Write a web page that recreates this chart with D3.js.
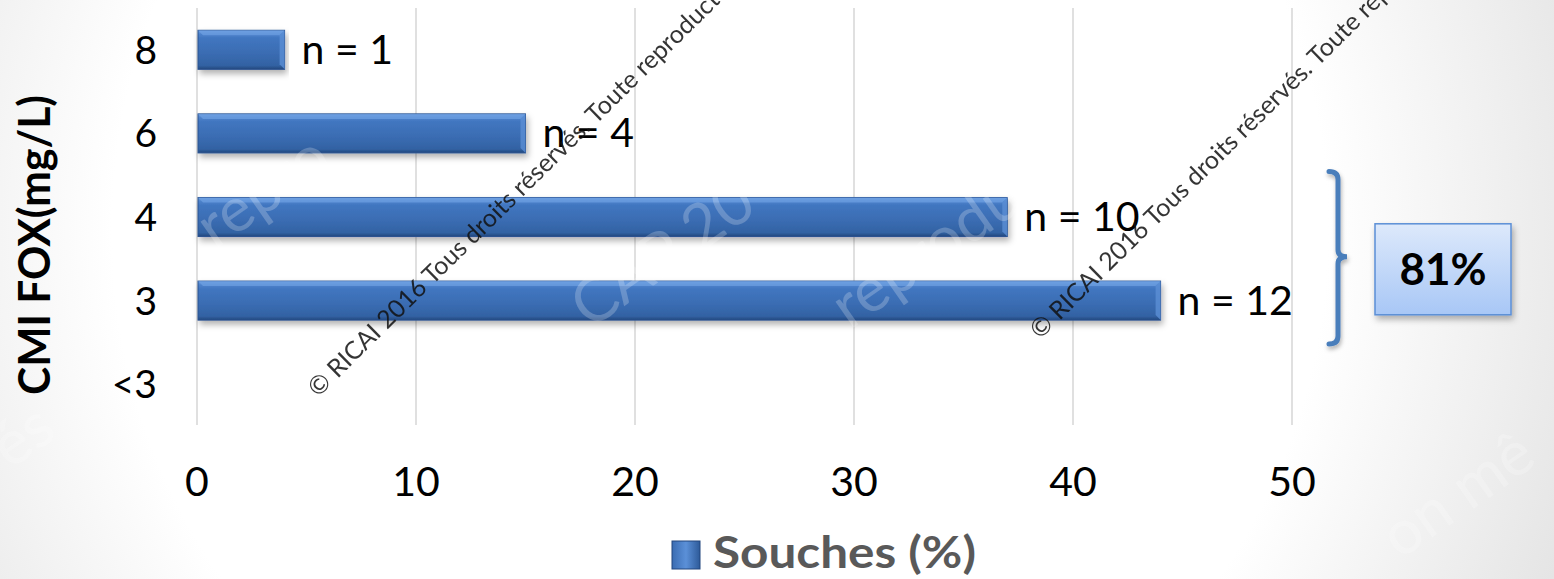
<!DOCTYPE html>
<html><head><meta charset="utf-8">
<script src="https://cdn.jsdelivr.net/npm/d3@7"></script>
<style>html,body{margin:0;padding:0;background:#fff;}svg{display:block;}</style>
</head><body>
<script>
// ---- data ----
const categories = ["8", "6", "4", "3", "<3"];
const values = [4, 15, 37, 44, null];       // Souches (%)
const counts = [1, 4, 10, 12, null];        // n
const xTicks = [0, 10, 20, 30, 40, 50];
const seriesName = "Souches (%)";
const axisTitle = "CMI FOX(mg/L)";
const groupCategories = ["4", "3"];
const groupLabel = "81%";
const watermark = "© RICAI 2016 Tous droits réservés. Toute reproduction";

const W = 1554, H = 579;
const svg = d3.select("body").append("svg").attr("width", W).attr("height", H);
const defs = svg.append("defs");

// background vignette
const bg = defs.append("radialGradient").attr("id", "bg")
  .attr("gradientUnits", "userSpaceOnUse").attr("cx", 720).attr("cy", 230).attr("r", 980);
bg.append("stop").attr("offset", "0.62").attr("stop-color", "#ffffff");
bg.append("stop").attr("offset", "1").attr("stop-color", "#dedede");
svg.append("rect").attr("width", W).attr("height", H).attr("fill", "url(#bg)");

// bar gradient
const bgrad = defs.append("linearGradient").attr("id", "barG").attr("x1", 0).attr("y1", 0).attr("x2", 0).attr("y2", 1);
[["0", "#6b9de0"], ["0.1", "#4d82cb"], ["0.2", "#4176c0"], ["0.6", "#3a6cb2"], ["0.9", "#3262a3"], ["1", "#22477d"]]
  .forEach(([o, c]) => bgrad.append("stop").attr("offset", o).attr("stop-color", c));
const bshadow = defs.append("filter").attr("id", "shd").attr("x", "-5%").attr("y", "-30%").attr("width", "110%").attr("height", "180%");
bshadow.append("feDropShadow").attr("dx", 2).attr("dy", 4).attr("stdDeviation", 3).attr("flood-color", "#000").attr("flood-opacity", 0.3);

const boxG = defs.append("linearGradient").attr("id", "boxG").attr("x1", 0).attr("y1", 0).attr("x2", 0).attr("y2", 1);
boxG.append("stop").attr("offset", "0").attr("stop-color", "#dde9fb");
boxG.append("stop").attr("offset", "1").attr("stop-color", "#a8c7f6");

const legG = defs.append("linearGradient").attr("id", "legG").attr("x1", 0).attr("y1", 0).attr("x2", 1).attr("y2", 0);
legG.append("stop").attr("offset", "0").attr("stop-color", "#3a6cb2");
legG.append("stop").attr("offset", "0.5").attr("stop-color", "#5b90d8");
legG.append("stop").attr("offset", "1").attr("stop-color", "#2d5a99");

// scales
const x = d3.scaleLinear().domain([0, 50]).range([197, 1292]);
const y = d3.scaleBand().domain(categories).range([8, 426]).paddingInner(0.533).paddingOuter(0.2665);

const font = "Lato, 'Open Sans', sans-serif";

// gridlines
svg.append("g").selectAll("line").data(xTicks).join("line")
  .attr("x1", d => x(d)).attr("x2", d => x(d)).attr("y1", 8).attr("y2", 425)
  .attr("stroke", "#d9d9d9").attr("stroke-width", 1.6);

// bars
const rows = categories.map((c, i) => ({ c, v: values[i], n: counts[i] })).filter(d => d.v != null);
const bars = svg.append("g");
bars.selectAll("rect.bar").data(rows).join("rect").attr("class", "bar")
  .attr("x", x(0) + 1).attr("y", d => y(d.c)).attr("width", d => x(d.v) - x(0) - 1).attr("height", y.bandwidth())
  .attr("fill", "url(#barG)").attr("stroke", "#2a5290").attr("stroke-width", 1).attr("filter", "url(#shd)");
// bevel highlights
bars.selectAll("path.bev").data(rows).join("path").attr("class", "bev")
  .attr("d", d => {
    const x0 = x(0) + 1, x1 = x(d.v), y0 = y(d.c), b = 5;
    return `M${x0},${y0} L${x1},${y0} L${x1 - b},${y0 + b} L${x0 + b},${y0 + b} Z`;
  }).attr("fill", "#6fa1e3").attr("opacity", 0.7);
bars.selectAll("path.bevR").data(rows).join("path").attr("class", "bevR")
  .attr("d", d => {
    const x1 = x(d.v), y0 = y(d.c), y1 = y0 + y.bandwidth(), b = 5;
    return `M${x1},${y0} L${x1},${y1} L${x1 - b},${y1 - b} L${x1 - b},${y0 + b} Z`;
  }).attr("fill", "#5b8ed4").attr("opacity", 0.8);

// faint big white watermark (over bars)
const bigWm = [["repro", 215, 250], ["CAP 20", 590, 330], ["reprodu", 850, 330], ["on mê", 1400, 560], ["és", 10, 470]];
svg.append("g").selectAll("text").data(bigWm).join("text")
  .attr("transform", d => `translate(${d[1]},${d[2]}) rotate(-35)`)
  .attr("font-family", font).attr("font-size", 62).attr("fill", "#ffffff").attr("opacity", 0.22)
  .text(d => d[0]);

// value labels
svg.append("g").selectAll("text").data(rows).join("text")
  .attr("x", d => x(d.v) + 17).attr("y", d => y(d.c) + y.bandwidth() / 2 + 14)
  .attr("font-family", font).attr("font-size", 41).attr("fill", "#000")
  .text(d => "n = " + d.n);

// y tick labels
svg.append("g").selectAll("text").data(categories).join("text")
  .attr("x", 157).attr("y", d => y(d) + y.bandwidth() / 2 + 14)
  .attr("text-anchor", "end").attr("font-family", font).attr("font-size", 39).attr("fill", "#000")
  .text(d => d);

// x tick labels
svg.append("g").selectAll("text").data(xTicks).join("text")
  .attr("x", d => x(d)).attr("y", 496)
  .attr("text-anchor", "middle").attr("font-family", font).attr("font-size", 41).attr("fill", "#000")
  .text(d => d);

// y axis title
svg.append("text").attr("transform", "translate(50,245) rotate(-90)")
  .attr("text-anchor", "middle").attr("font-family", font).attr("font-weight", 700).attr("font-size", 43)
  .attr("textLength", 300).attr("lengthAdjust", "spacingAndGlyphs")
  .attr("fill", "#000").text(axisTitle);

// legend
svg.append("rect").attr("x", 672).attr("y", 541).attr("width", 28).attr("height", 28)
  .attr("fill", "url(#legG)").attr("stroke", "#23477f").attr("stroke-width", 1);
svg.append("text").attr("x", 713).attr("y", 568)
  .attr("font-family", font).attr("font-weight", 700).attr("font-size", 43).attr("fill", "#595959")
  .attr("textLength", 263).attr("lengthAdjust", "spacingAndGlyphs")
  .text(seriesName);

// watermarks (diagonal)
const wm = [[318, 398], [1040, 340]];
svg.append("g").selectAll("text").data(wm).join("text")
  .attr("transform", d => `translate(${d[0]},${d[1]}) rotate(-44.5)`)
  .attr("font-family", font).attr("font-size", 25).attr("fill", "#111").attr("opacity", 0.85)
  .text(watermark);

// brace
const gTop = y(groupCategories[0]) - 26;
const gBot = y(groupCategories[groupCategories.length - 1]) + y.bandwidth() + 24;
const gMid = (gTop + gBot) / 2 - 1;
const bx = x(50) + 46;
const braceShadow = defs.append("filter").attr("id", "bshd").attr("x", "-50%").attr("y", "-10%").attr("width", "200%").attr("height", "120%");
braceShadow.append("feDropShadow").attr("dx", 1).attr("dy", 3).attr("stdDeviation", 2).attr("flood-color", "#000").attr("flood-opacity", 0.3);
svg.append("path")
  .attr("d", `M${bx - 9},${gTop} Q${bx},${gTop} ${bx},${gTop + 8} L${bx},${gMid - 7} Q${bx},${gMid} ${bx + 9},${gMid} Q${bx},${gMid} ${bx},${gMid + 7} L${bx},${gBot - 8} Q${bx},${gBot} ${bx - 9},${gBot}`)
  .attr("fill", "none").attr("stroke", "#4a7ebb").attr("stroke-width", 5).attr("stroke-linecap", "round")
  .attr("filter", "url(#bshd)");

// 81% box
const boxShadow = defs.append("filter").attr("id", "boxshd").attr("x", "-10%").attr("y", "-10%").attr("width", "130%").attr("height", "130%");
boxShadow.append("feDropShadow").attr("dx", 2).attr("dy", 4).attr("stdDeviation", 3).attr("flood-color", "#000").attr("flood-opacity", 0.3);
svg.append("rect").attr("x", 1375).attr("y", gMid - 33).attr("width", 136).attr("height", 91)
  .attr("fill", "url(#boxG)").attr("stroke", "#5b8fd6").attr("stroke-width", 1.5).attr("filter", "url(#boxshd)");
svg.append("text").attr("x", 1443).attr("y", gMid + 28).attr("text-anchor", "middle")
  .attr("font-family", font).attr("font-weight", 700).attr("font-size", 44).attr("fill", "#000")
  .text(groupLabel);
</script>
</body></html>
